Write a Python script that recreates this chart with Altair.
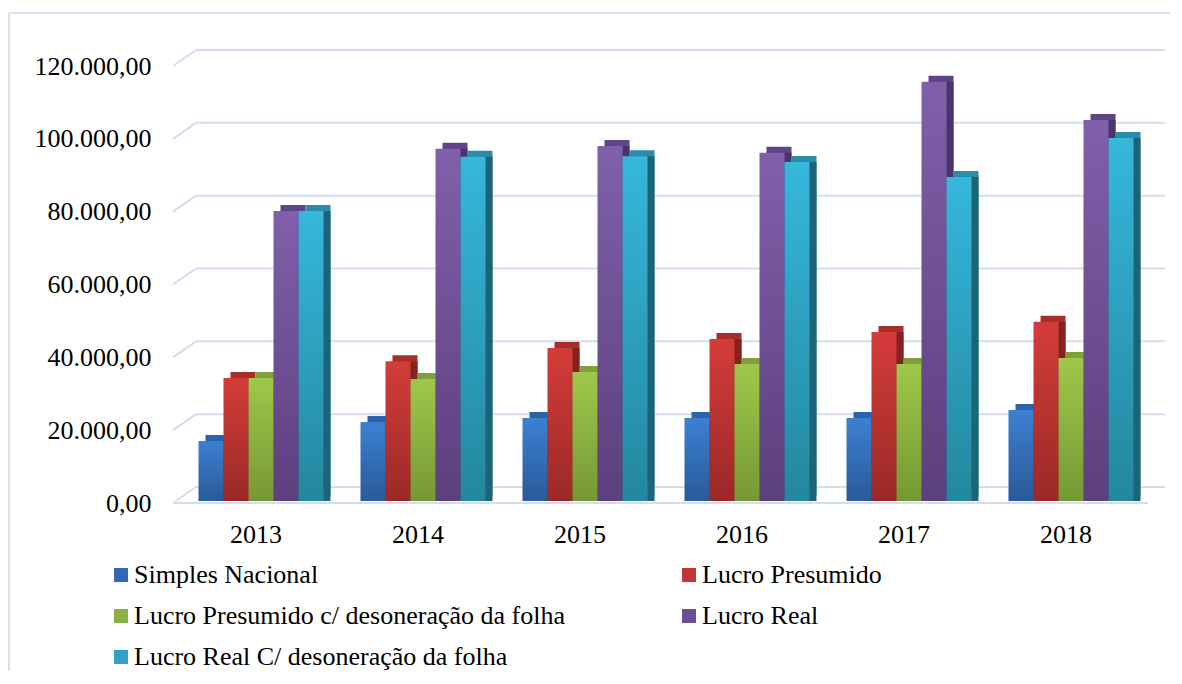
import altair as alt
import pandas as pd

years = ["2013", "2014", "2015", "2016", "2017", "2018"]
series = [
    "Simples Nacional",
    "Lucro Presumido",
    "Lucro Presumido c/ desoneração da folha",
    "Lucro Real",
    "Lucro Real C/ desoneração da folha",
]
simples = [16500, 21700, 22800, 22800, 22800, 25000]
presumido = [33800, 38400, 42000, 44500, 46400, 49200]
presumido_des = [33800, 33500, 35400, 37600, 37600, 39300]
real = [79600, 96700, 97500, 95600, 115100, 104600]
real_des = [79600, 94500, 94700, 93100, 89000, 99700]
tick_values = [0, 20000, 40000, 60000, 80000, 100000, 120000]

front_top = ["#3c80d2", "#d43c39", "#9ec84b", "#8060aa", "#36b7dc"]
front_bottom = ["#2a5a98", "#9a2927", "#769834", "#5c3f7e", "#23879e"]
side_col = ["#214c84", "#84221f", "#67872c", "#4b336d", "#1c6477"]
topf_col = ["#2b63aa", "#a82e2b", "#7fa03c", "#604488", "#2b8ca7"]
legend_col = ["#3468b5", "#c23633", "#8bb043", "#6d4d96", "#2ea3c4"]

values_by_series = [simples, presumido, presumido_des, real, real_des]
rows = []
for s, vals in zip(series, values_by_series):
    for y, v in zip(years, vals):
        rows.append({"year": y, "series": s, "value": v})
df = pd.DataFrame(rows)
ticks = pd.DataFrame({"tick": tick_values})

FONT = "Times New Roman, Liberation Serif, serif"
GRID = "#d3ddef"
FRAME = "#d6e1f1"
BAR_W = 25
DX, DY = 7, -6

x_scale = alt.Scale(domain=years, paddingInner=0, paddingOuter=0)
y_scale = alt.Scale(domain=[0, 120000], nice=False, zero=True)

x_axis = alt.Axis(
    title=None, labelAngle=0, ticks=False, domain=False, grid=False,
    labelFont=FONT, labelFontSize=26, labelColor="#000000",
    labelPadding=20, labelOffset=-5,
)
y_axis = alt.Axis(
    title=None, values=tick_values, ticks=False, domain=False, grid=False,
    labelFont=FONT, labelFontSize=26, labelColor="#000000",
    labelPadding=29, labelOffset=2,
    labelExpr="replace(replace(replace(format(datum.value, ',.2f'), ',', '#'), '.', ','), '#', '.')",
)

layers = []

# back-wall gridlines
layers.append(
    alt.Chart(ticks).mark_rule(color=GRID, strokeWidth=2, yOffset=-14).encode(
        y=alt.Y("tick:Q", scale=y_scale, axis=y_axis),
        x=alt.value(16), x2=alt.value(985),
    )
)
# side-wall diagonals
layers.append(
    alt.Chart(ticks).mark_rule(color=GRID, strokeWidth=2, yOffset=2, y2Offset=-14).encode(
        y=alt.Y("tick:Q", scale=y_scale, axis=y_axis),
        y2="tick:Q",
        x=alt.value(-7), x2=alt.value(16),
    )
)
# front floor edge
layers.append(
    alt.Chart(ticks).transform_filter("datum.tick == 0").mark_rule(
        color=GRID, strokeWidth=2, yOffset=2
    ).encode(
        y=alt.Y("tick:Q", scale=y_scale, axis=y_axis),
        x=alt.value(-7), x2=alt.value(968),
    )
)
# outer frame: top and left edges
frame_src = alt.Chart(ticks).transform_filter("datum.tick == 0")
layers.append(
    frame_src.mark_rule(color=FRAME, strokeWidth=2).encode(
        x=alt.value(-171), x2=alt.value(990), y=alt.value(-51)
    )
)
layers.append(
    frame_src.mark_rule(color=FRAME, strokeWidth=2).encode(
        x=alt.value(-171), y=alt.value(-51), y2=alt.value(800)
    )
)

# 3D top and side faces
for i, s in enumerate(series):
    shift = (i - 2) * BAR_W
    base = alt.Chart(df).transform_filter(alt.datum.series == s)
    layers.append(
        base.mark_bar(width=BAR_W, color=topf_col[i], xOffset=shift + DX, yOffset=DY, y2Offset=DY).encode(
            x=alt.X("year:N", scale=x_scale, axis=x_axis),
            y=alt.Y("value:Q", scale=y_scale, axis=y_axis),
        )
    )
    layers.append(
        base.mark_bar(width=BAR_W, color=side_col[i], xOffset=shift + DX, yOffset=0, y2Offset=DY).encode(
            x=alt.X("year:N", scale=x_scale, axis=x_axis),
            y=alt.Y("value:Q", scale=y_scale, axis=y_axis),
        )
    )

# front faces
for i, s in enumerate(series):
    shift = (i - 2) * BAR_W
    grad = alt.LinearGradient(
        gradient="linear",
        stops=[alt.GradientStop(color=front_top[i], offset=0),
               alt.GradientStop(color=front_bottom[i], offset=1)],
        x1=0, x2=0, y1=0, y2=1,
    )
    layers.append(
        alt.Chart(df).transform_filter(alt.datum.series == s).mark_bar(
            width=BAR_W, fill=grad, xOffset=shift
        ).encode(
            x=alt.X("year:N", scale=x_scale, axis=x_axis),
            y=alt.Y("value:Q", scale=y_scale, axis=y_axis),
        )
    )

# legend carrier
layers.append(
    alt.Chart(df).mark_square(opacity=0, size=10).encode(
        x=alt.X("year:N", scale=x_scale, axis=x_axis),
        y=alt.Y("value:Q", scale=y_scale, axis=y_axis),
        color=alt.Color(
            "series:N",
            scale=alt.Scale(domain=series, range=legend_col),
            legend=alt.Legend(
                title=None, orient="none", legendX=-72, legendY=498,
                direction="horizontal",
                columns=2, columnPadding=110, rowPadding=15,
                symbolType="square", symbolSize=196, symbolOpacity=1,
                symbolStrokeWidth=0, labelOffset=0,
                labelFont=FONT, labelFontSize=26, labelColor="#000000",
                labelLimit=0, padding=0,
            ),
        ),
    )
)

chart = alt.layer(*layers).properties(
    width=972, height=437,
    padding={"left": 172, "top": 56, "right": 22, "bottom": 170},
    autosize=alt.AutoSizeParams(type="none"),
    background="#ffffff",
).configure(
    font=FONT,
    view=alt.ViewConfig(stroke=None),
    legend=alt.LegendConfig(labelFont=FONT, labelFontSize=26, labelColor="#000000"),
)

chart.save("out.html", embed_options={"renderer": "svg", "actions": False})
